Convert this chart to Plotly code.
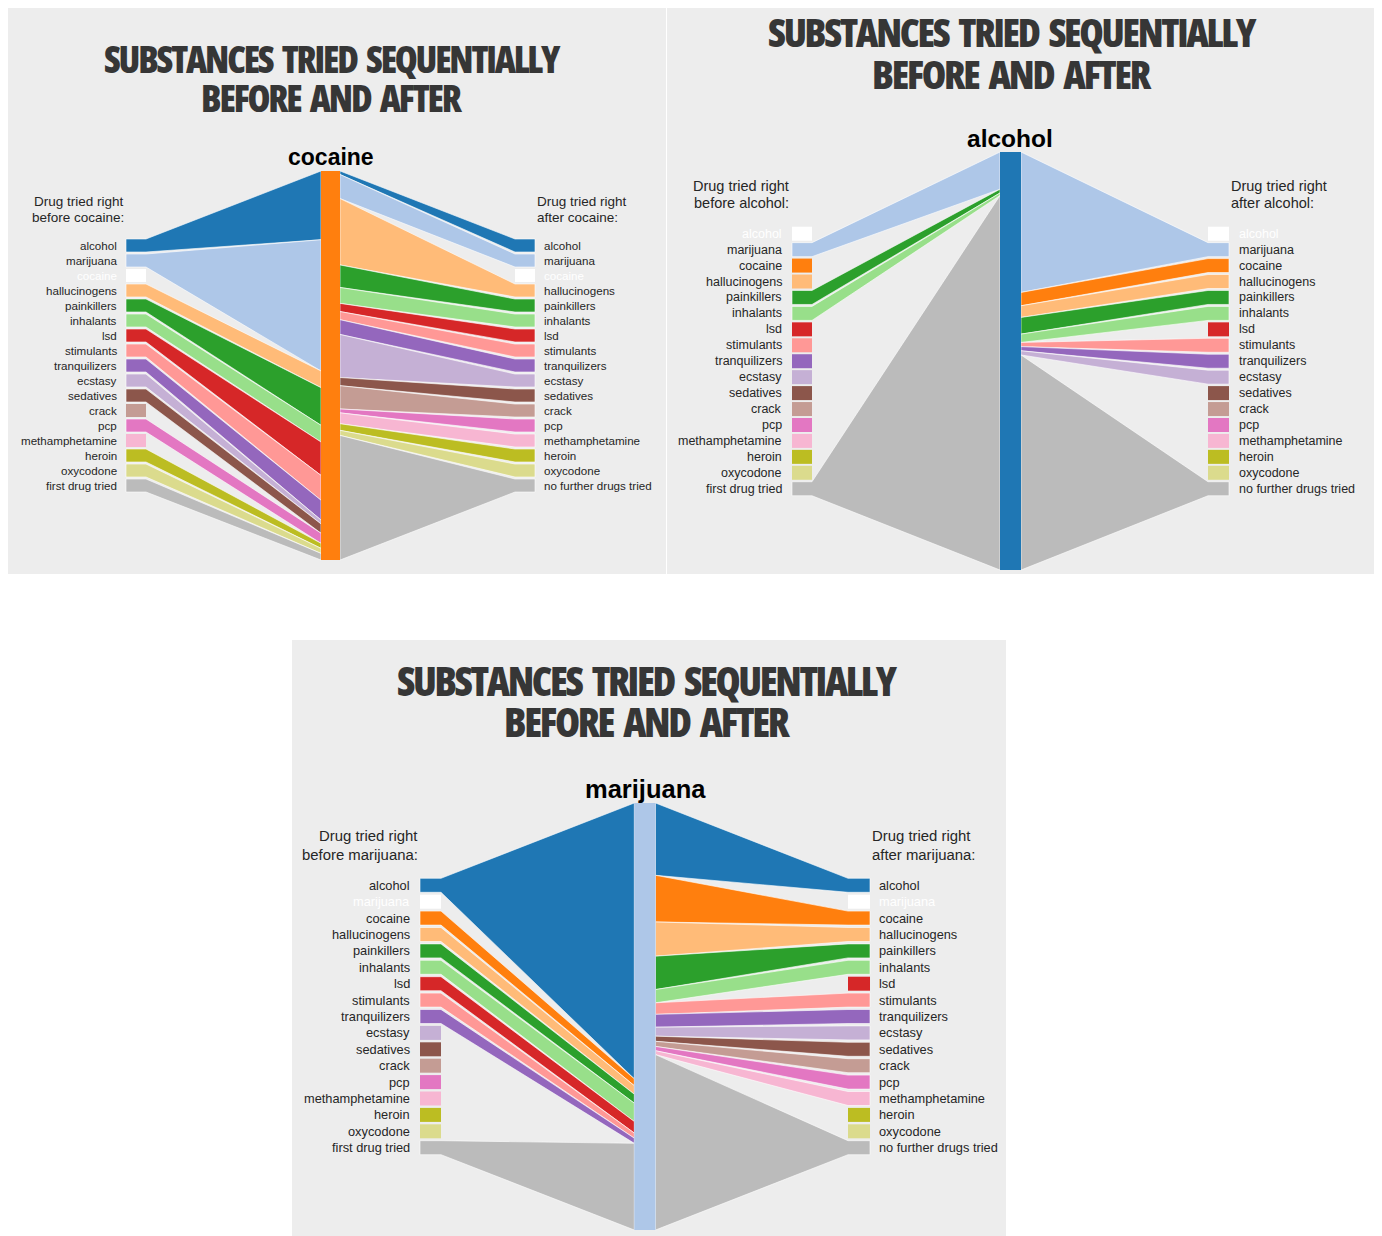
import plotly.graph_objects as go

# ---------------- data ----------------
DRUGS = ["alcohol", "marijuana", "cocaine", "hallucinogens", "painkillers",
         "inhalants", "lsd", "stimulants", "tranquilizers", "ecstasy",
         "sedatives", "crack", "pcp", "methamphetamine", "heroin", "oxycodone"]
DRUG_COLORS = ["#1f77b4", "#aec7e8", "#ff7f0e", "#ffbb78", "#2ca02c",
               "#98df8a", "#d62728", "#ff9896", "#9467bd", "#c5b0d5",
               "#8c564b", "#c49c94", "#e377c2", "#f7b6d2", "#bcbd22", "#dbdb8d"]
END_COLOR = "#bbbbbb"
FIRST_LABEL = "first drug tried"
NONE_LABEL = "no further drugs tried"

# shares (%) of users: drug tried right before / right after the focus drug
COCAINE_BEFORE = [17.7, 33.8, 0, 4.3, 9.7, 4.3, 8.6, 6.4, 5.1, 1.0, 2.4, 0, 2.6, 0, 1.3, 1.3]
COCAINE_FIRST = 1.7
COCAINE_AFTER = [0.9, 6.2, 0, 17.1, 5.8, 4.1, 2.1, 2.1, 3.8, 11.1, 2.1, 6.0, 1.0, 2.8, 1.7, 1.3]
COCAINE_NONE = 32.1

ALCOHOL_BEFORE = [0, 8.9, 0, 0, 0.9, 0.6, 0, 0, 0, 0, 0, 0, 0, 0, 0, 0]
ALCOHOL_FIRST = 89.6
ALCOHOL_AFTER = [0, 33.7, 3.2, 2.8, 4.0, 2.0, 0, 1.0, 1.0, 1.0, 0, 0, 0, 0, 0, 0]
ALCOHOL_NONE = 51.6

MARIJUANA_BEFORE = [64.6, 0, 1.6, 2.0, 2.1, 4.3, 2.7, 1.2, 1.2, 0, 0, 0, 0, 0, 0, 0]
MARIJUANA_FIRST = 20.3
MARIJUANA_AFTER = [16.9, 0, 10.9, 8.0, 7.8, 3.1, 0, 2.7, 3.0, 2.1, 1.2, 1.2, 1.0, 0.9, 0, 0]
MARIJUANA_NONE = 41.0

TITLE_LINES = ["SUBSTANCES TRIED SEQUENTIALLY", "BEFORE AND AFTER"]

# ---------------- layout (pixel geometry per panel, page pixels) ----------------
GEOM = {
    "cocaine": dict(bg=(7, 666, 8, 574), bar=(321, 340, 171, 560),
                    lbox=(126, 146), rbox=(515, 535), row_top=239, pitch=15, box_h=13,
                    llab=119, rlab=542, head_y=(201, 217), lhead=126, rhead=535,
                    center=(331, 157), center_size=23, title_x=332, title_y=(58, 97),
                    title_size=37, title_ls=2.2, title_ws=5, lab_size=11.6, head_size=13.5),
    "alcohol": dict(bg=(667, 1377, 0, 574), bar=(1000, 1021, 152, 570),
                    lbox=(792, 812), rbox=(1208, 1229), row_top=226.7, pitch=15.94, box_h=14,
                    llab=784, rlab=1236.5, head_y=(185.7, 202.7), lhead=791, rhead=1229,
                    center=(1010, 138), center_size=24.5, title_x=1012, title_y=(32, 74),
                    title_size=39.5, title_ls=2.3, title_ws=5.3, lab_size=12.5, head_size=14.5),
    "marijuana": dict(bg=(292, 1006, 640, 1236), bar=(634.3, 655.5, 803, 1230),
                      lbox=(420, 441), rbox=(848, 870), row_top=878.3, pitch=16.4, box_h=14,
                      llab=412, rlab=877.3, head_y=(835.7, 855), lhead=419.7, rhead=870,
                      center=(645, 789), center_size=25.5, title_x=647, title_y=(680, 721),
                      title_size=40.5, title_ls=2.4, title_ws=5.5, lab_size=12.8, head_size=14.9),
}

PANELS = [
    ("cocaine", COCAINE_BEFORE, COCAINE_FIRST, COCAINE_AFTER, COCAINE_NONE),
    ("alcohol", ALCOHOL_BEFORE, ALCOHOL_FIRST, ALCOHOL_AFTER, ALCOHOL_NONE),
    ("marijuana", MARIJUANA_BEFORE, MARIJUANA_FIRST, MARIJUANA_AFTER, MARIJUANA_NONE),
]

PAGE_MARGIN = 8   # default body margin of the html page
FIG_W, FIG_H = 1382 - PAGE_MARGIN, 1236 - PAGE_MARGIN

LABEL_FONT = "Liberation Sans, Arial, sans-serif"
TITLE_FONT = "Open Sans, sans-serif"
TEXT_COLOR = "#262626"
PANEL_BG = "#ededed"
SEP = "rgba(255,255,255,0.75)"

fig = go.Figure()
shapes = []
annotations = []


def poly(xs, ys, color, line_color=SEP, lw=0.8):
    fig.add_trace(go.Scatter(x=xs + [xs[0]], y=ys + [ys[0]], mode="lines", fill="toself",
                             fillcolor=color, line=dict(color=line_color, width=lw),
                             hoverinfo="skip", showlegend=False))


def txt(x, y, s, size, color=TEXT_COLOR, xanchor="left", family=LABEL_FONT, weight="normal"):
    annotations.append(dict(x=x, y=y, xref="x", yref="y", text=s,
                            showarrow=False, xanchor=xanchor, yanchor="middle",
                            font=dict(family=family, size=size, color=color, weight=weight)))


for focus, before, first, after, none in PANELS:
    g = GEOM[focus]
    fi = DRUGS.index(focus)
    x0, x1, y0, y1 = g["bg"]
    shapes.append(dict(type="rect", xref="x", yref="y", x0=x0, x1=x1, y0=y0, y1=y1,
                       fillcolor=PANEL_BG, line=dict(width=0), layer="below"))
    bx0, bx1, by0, by1 = g["bar"]
    H = by1 - by0
    n = len(DRUGS) + 1
    rows_top = [g["row_top"] + i * g["pitch"] for i in range(n)]
    labels_l = DRUGS + [FIRST_LABEL]
    labels_r = DRUGS + [NONE_LABEL]
    cols = DRUG_COLORS + [END_COLOR]

    for side, vals, labels in (("L", before + [first], labels_l), ("R", after + [none], labels_r)):
        tot = sum(vals)
        cum = by0
        bxa, bxb = g["lbox"] if side == "L" else g["rbox"]
        for i in range(n):
            t = rows_top[i]
            b = t + g["box_h"]
            h = vals[i] / tot * H
            is_focus = (i == fi)
            col = "#ffffff" if is_focus else cols[i]
            if h > 0:
                ft, fb = cum, cum + h
                if side == "L":
                    xs = [bxa, bxb, bx0, bx0, bxb, bxa]
                else:
                    xs = [bxb, bxa, bx1, bx1, bxa, bxb]
                poly(xs, [t, t, ft, fb, b, b], col)
                cum = fb
            else:
                poly([bxa, bxb, bxb, bxa], [t, t, b, b], col, line_color=col, lw=0)
            lab_col = "#ffffff" if is_focus else TEXT_COLOR
            if side == "L":
                txt(g["llab"], (t + b) / 2, labels[i], g["lab_size"], color=lab_col, xanchor="right")
            else:
                txt(g["rlab"], (t + b) / 2, labels[i], g["lab_size"], color=lab_col, xanchor="left")

    # central bar
    poly([bx0, bx1, bx1, bx0], [by0, by0, by1, by1], DRUG_COLORS[fi], line_color=DRUG_COLORS[fi], lw=0)

    # headers
    txt(g["lhead"], g["head_y"][0], "Drug tried right", g["head_size"], xanchor="right")
    txt(g["lhead"], g["head_y"][1], "before %s:" % focus, g["head_size"], xanchor="right")
    txt(g["rhead"], g["head_y"][0], "Drug tried right", g["head_size"], xanchor="left")
    txt(g["rhead"], g["head_y"][1], "after %s:" % focus, g["head_size"], xanchor="left")
    # focus label
    txt(g["center"][0], g["center"][1], focus, g["center_size"], color="#000000",
        xanchor="center", weight="bold")
    # title (condensed heavy face)
    for k, line in enumerate(TITLE_LINES):
        s = ('<span style="font-stretch:75%%;letter-spacing:-%.1fpx;word-spacing:%.1fpx">%s</span>'
             % (g["title_ls"], g["title_ws"], line))
        txt(g["title_x"], g["title_y"][k], s, g["title_size"], color="#363636",
            xanchor="center", family=TITLE_FONT, weight=800)

fig.update_layout(
    width=FIG_W, height=FIG_H, margin=dict(l=0, r=0, t=0, b=0, pad=0),
    paper_bgcolor="#ffffff", plot_bgcolor="#ffffff",
    xaxis=dict(range=[PAGE_MARGIN, PAGE_MARGIN + FIG_W], visible=False, fixedrange=True),
    yaxis=dict(range=[PAGE_MARGIN + FIG_H, PAGE_MARGIN], visible=False, fixedrange=True),
    shapes=shapes, annotations=annotations, showlegend=False,
)
fig.write_html("out.html")
